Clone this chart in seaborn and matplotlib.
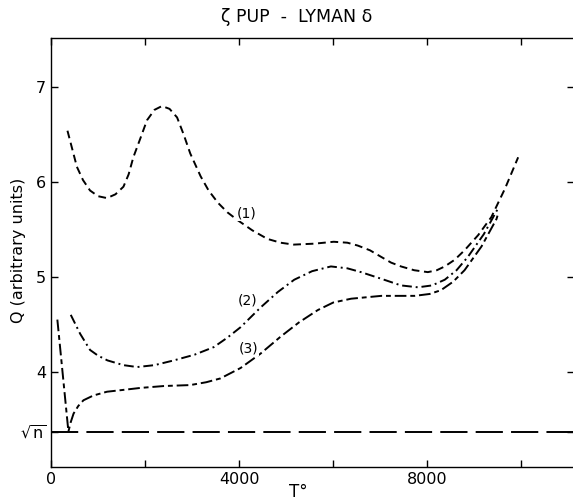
import numpy as np
import pandas as pd
import matplotlib
matplotlib.use("Agg")
import matplotlib.pyplot as plt
import seaborn as sns

# ---- data ----
T1 = [350, 450, 550, 680, 830, 1000, 1190, 1370, 1540, 1650, 1750, 1900, 2040,
      2200, 2360, 2520, 2680, 2820, 2960, 3180, 3350, 3550, 3750, 3960, 4280, 4600,
      4880, 5160, 5600, 6010, 6300, 6520, 6780, 7020, 7230, 7440, 7720, 8010,
      8200, 8370, 8580, 8790, 9080, 9360, 9650, 9930]
Q1 = [6.54, 6.35, 6.16, 6.02, 5.91, 5.85, 5.83, 5.87, 5.95, 6.08, 6.26, 6.46, 6.65,
      6.76, 6.80, 6.77, 6.68, 6.50, 6.30, 6.06, 5.91, 5.78, 5.68, 5.60, 5.49, 5.40,
      5.36, 5.34, 5.35, 5.37, 5.36, 5.33, 5.28, 5.21, 5.15, 5.11, 5.07, 5.05,
      5.07, 5.11, 5.18, 5.28, 5.44, 5.63, 5.93, 6.26]

T2 = [420, 620, 830, 1000, 1200, 1540, 1830, 2200, 2610, 3050, 3460, 3750, 4030,
      4460, 4820, 5170, 5550, 5950, 6300, 6590, 7020, 7440, 7800, 8100, 8370,
      8620, 8860, 9200, 9500]
Q2 = [4.60, 4.40, 4.23, 4.17, 4.12, 4.07, 4.05, 4.07, 4.12, 4.18, 4.26, 4.36, 4.47,
      4.68, 4.84, 4.97, 5.06, 5.11, 5.09, 5.05, 4.98, 4.91, 4.89, 4.91, 4.97,
      5.07, 5.21, 5.45, 5.72]

T3 = [135, 370, 420, 480, 580, 690, 900, 1190, 1550, 1900, 2400, 2960, 3300,
      3600, 4030, 4450, 4880, 5270, 5670, 6000, 6380, 7020, 7730, 8050, 8290,
      8550, 8790, 9150, 9470, 9500]
Q3 = [4.55, 3.37, 3.47, 3.56, 3.64, 3.70, 3.75, 3.79, 3.81, 3.83, 3.85, 3.86, 3.89,
      3.93, 4.04, 4.19, 4.37, 4.52, 4.65, 4.73, 4.77, 4.80, 4.80, 4.82, 4.86,
      4.95, 5.07, 5.32, 5.61, 5.66]

sqrt_n = 3.37
curve_labels = ["(1)", "(2)", "(3)"]
label_T = [4150, 4180, 4200]
label_Q = [5.67, 4.75, 4.25]

x_ticks = [0, 2000, 4000, 6000, 8000, 10000]
x_ticklabels = ["0", "", "4000", "", "8000", ""]
y_ticks = [sqrt_n, 4, 5, 6, 7]
y_ticklabels = [r"$\sqrt{\mathrm{n}}$", "4", "5", "6", "7"]

title = "ζ PUP  -  LYMAN δ"
xlabel = "T°"
ylabel = "Q (arbitrary units)"

# ---- build long-form table ----
df = pd.concat([
    pd.DataFrame({"T": T1, "Q": Q1, "curve": "1"}),
    pd.DataFrame({"T": T2, "Q": Q2, "curve": "2"}),
    pd.DataFrame({"T": T3, "Q": Q3, "curve": "3"}),
], ignore_index=True)

sns.set_style("ticks")
plt.rcParams["font.family"] = ["DejaVu Sans"]
plt.rcParams["text.color"] = "black"
plt.rcParams["mathtext.fontset"] = "dejavusans"

fig = plt.figure(figsize=(5.73, 5.04), dpi=100)
ax = fig.add_axes([51 / 573, 1 - 466.7 / 504, 1 - 51 / 573 + 0.002, (466.7 - 37.7) / 504])

sns.lineplot(data=df, x="T", y="Q", style="curve", sort=False,
             dashes={"1": (4, 2.4), "2": (5, 2, 1, 2), "3": (6, 2, 2.5, 2)},
             color="black", linewidth=1.4, legend=False, ax=ax, estimator=None)

ax.axhline(sqrt_n, color="black", linewidth=1.4, dashes=(14, 4.2))

for lab, tx, ty in zip(curve_labels, label_T, label_Q):
    ax.text(tx, ty, lab, fontsize=10, ha="center", va="center", color="black",
            bbox=dict(facecolor="white", edgecolor="none", pad=0.5))

ax.set_xlim(0, 11120)
ax.set_ylim(3.0, 7.52)
ax.set_xticks(x_ticks)
ax.set_xticklabels(x_ticklabels)
ax.set_yticks(y_ticks)
ax.set_yticklabels(y_ticklabels)
ax.tick_params(direction="in", length=5, width=1, labelsize=11.5, colors="black",
               labelcolor="black", top=True, right=True)
for s in ax.spines.values():
    s.set_linewidth(1.0)
    s.set_color("black")
ax.set_xlabel("")
ax.set_ylabel("")

fig.text(297 / 573, 1 - 17 / 504, title, ha="center", va="center", fontsize=12.5,
         color="black")
fig.text(298 / 573, 1 - 492 / 504, xlabel, ha="center", va="center", fontsize=12,
         color="black")
fig.text(19 / 573, 1 - 250 / 504, ylabel, ha="center", va="center",
         fontsize=11.5, rotation=90, color="black")

fig.savefig("out.png", dpi=100)
